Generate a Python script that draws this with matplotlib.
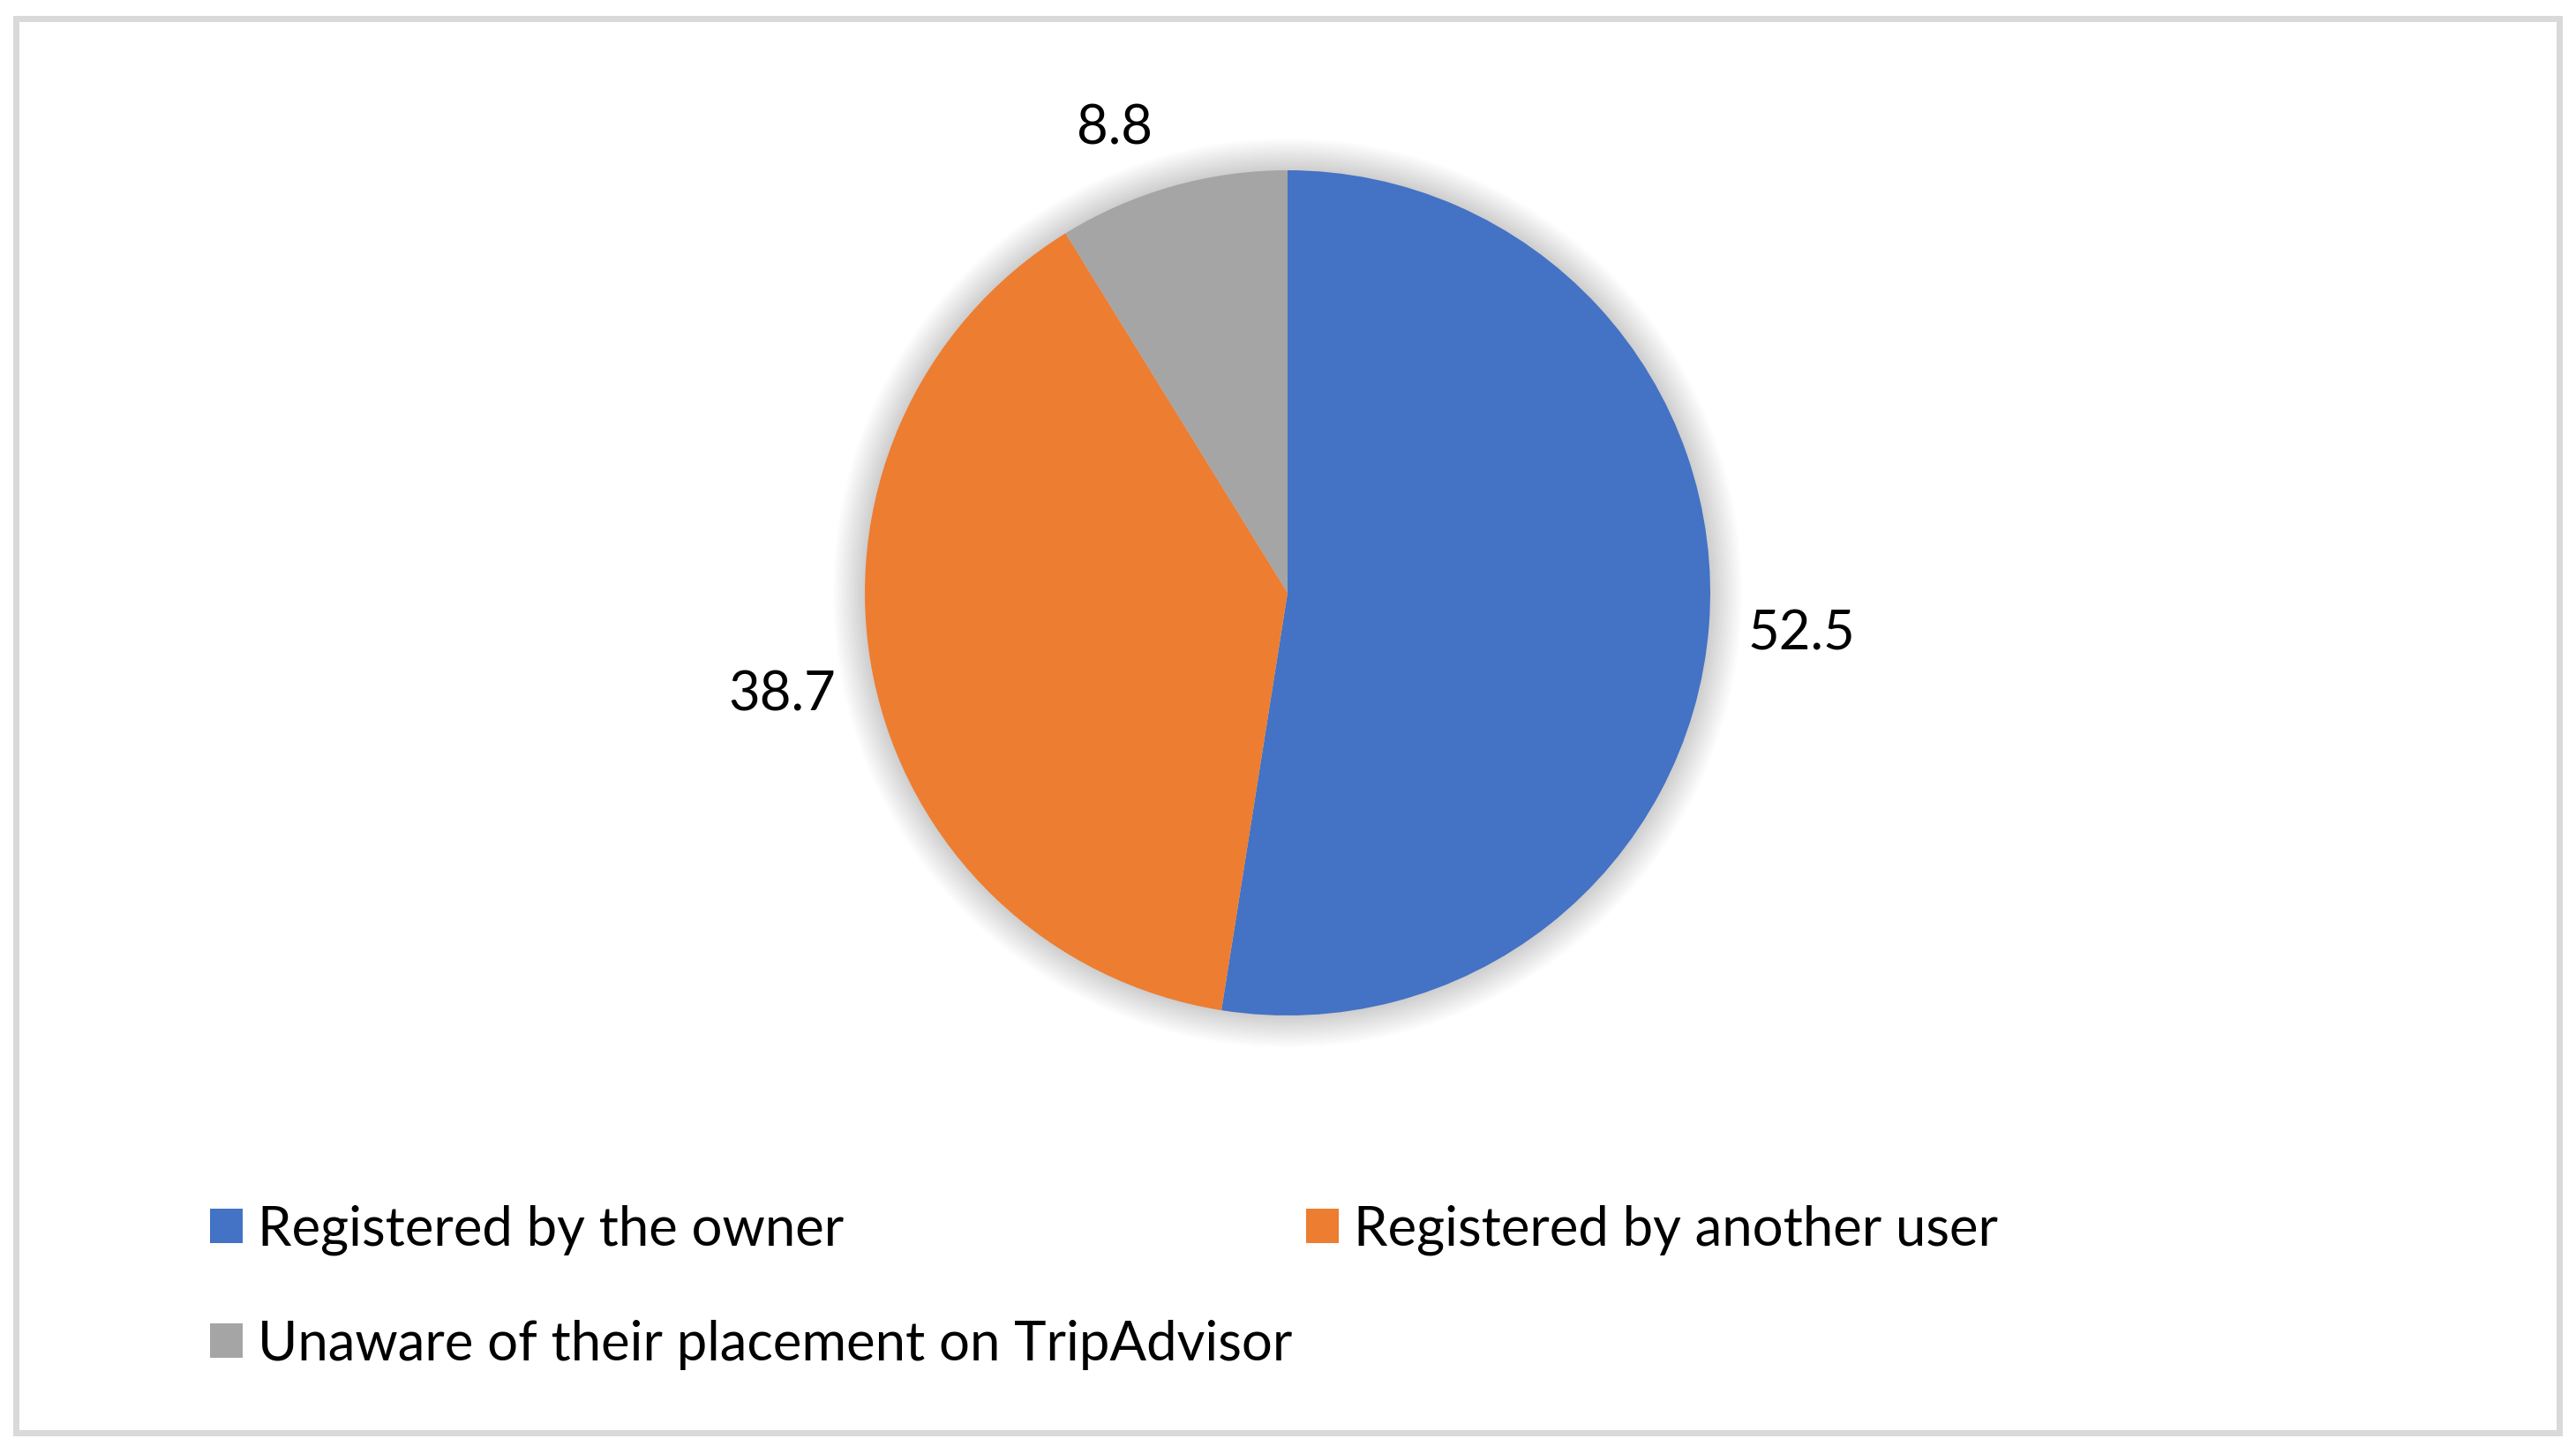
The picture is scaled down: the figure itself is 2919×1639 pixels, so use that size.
import matplotlib
matplotlib.use("Agg")
import matplotlib.pyplot as plt
from matplotlib.patches import Circle, Rectangle, Patch

categories = ["Registered by the owner", "Registered by another user",
              "Unaware of their placement on TripAdvisor"]
values = [52.5, 38.7, 8.8]
colors = ["#4472C4", "#ED7D31", "#A5A5A5"]

plt.rcParams['font.family'] = ['Lato', 'DejaVu Sans']

W, H = 2919, 1640
DPI = 200
FS = 22.2
fig = plt.figure(figsize=(W / DPI, H / DPI), dpi=DPI)
fig.patch.set_facecolor("white")

# outer border
bw = 7
fig.add_artist(Rectangle(((14 + bw / 2) / W, (H - 1628 + bw / 2) / H),
                         (2903 - 14 - bw) / W, (1628 - 18 - bw) / H,
                         transform=fig.transFigure, fill=False,
                         edgecolor="#D9D9D9", linewidth=bw * 72 / DPI))

# pie axes
cx, cy, r = 1459, 673, 479
L = 1.4
side = 2 * r * L
ax = fig.add_axes([(cx - side / 2) / W, (H - cy - side / 2) / H, side / W, side / H])
ax.set_xlim(-L, L)
ax.set_ylim(-L, L)
ax.axis("off")

# soft shadow
n = 16
for i in range(n):
    rr = 1.0 + 0.075 * (i + 1) / n
    ax.add_patch(Circle((0, 0), rr, facecolor="black", edgecolor="none",
                        alpha=0.011, zorder=0))

wedges, texts, autotexts = ax.pie(values, colors=colors, startangle=90,
                                  counterclock=False, radius=1,
                                  autopct=lambda p: f"{p:.1f}",
                                  pctdistance=1.22,
                                  wedgeprops=dict(linewidth=0, zorder=2),
                                  textprops=dict(fontsize=FS, color="black"))
# small slice label sits a bit further left, as in the original
autotexts[2].set_position((-0.409, 1.10))
ax.set_xlim(-L, L)
ax.set_ylim(-L, L)

# legend filled row by row: (owner, another) / (unaware)
order = [0, 2, 1]
handles = [Patch(facecolor=colors[i], edgecolor="none") for i in order]
labels = [categories[i] for i in order]
leg = fig.legend(handles, labels, ncol=2, frameon=False,
                 loc="upper left", bbox_to_anchor=(238 / W, 1 - 1366 / H),
                 fontsize=FS, handlelength=0.6, handleheight=0.6,
                 handletextpad=0.28, columnspacing=0.25, labelspacing=1.18,
                 borderaxespad=0, borderpad=0)

fig.savefig("out.png", dpi=DPI, facecolor="white")
